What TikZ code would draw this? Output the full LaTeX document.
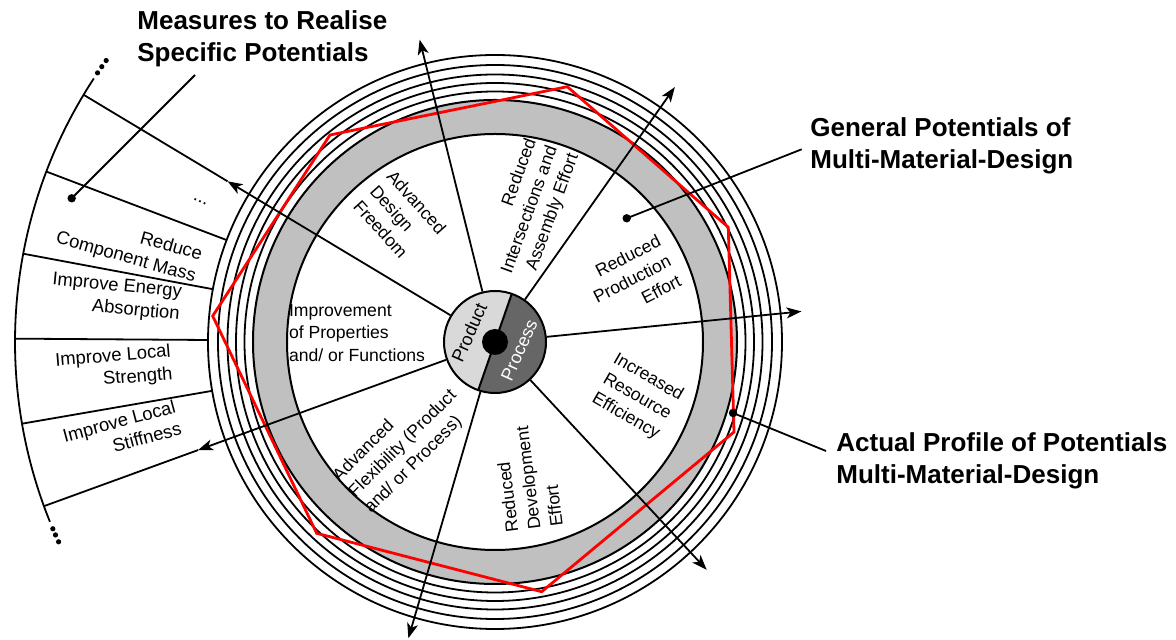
\documentclass[tikz,border=0pt]{standalone}
\usepackage{fontspec}
\setmainfont{Liberation Sans}
\usetikzlibrary{arrows.meta}
\definecolor{bandgray}{HTML}{C0C0C0}
\definecolor{prodgray}{HTML}{D9D9D9}
\definecolor{procgray}{HTML}{666666}
\definecolor{profred}{HTML}{FF0000}
\begin{document}
\begin{tikzpicture}[x=0.5pt,y=0.5pt,
  ring/.style={line width=0.9pt},
  plain/.style={line width=0.9pt},
  spoke/.style={line width=0.9pt,-{Stealth[length=7.5pt,width=5.5pt,inset=2pt]}},
  seclabel/.style={font=\fontsize{8.8}{11.2}\selectfont,inner sep=0pt},
  measlabel/.style={font=\fontsize{9.2}{11.3}\selectfont,inner sep=0pt,align=right},
  hublabel/.style={font=\fontsize{9}{10}\selectfont,inner sep=0pt,rotate=66},
  title/.style={font=\fontsize{13}{16}\selectfont\bfseries,align=left,anchor=north west,inner sep=0pt},
  dot/.style={circle,fill=black,inner sep=0pt,minimum size=4.2pt},
  smalldot/.style={circle,fill=black,inner sep=0pt,minimum size=2.6pt},
  profile/.style={draw=profred,line width=1.4pt,line join=miter}
]
\useasboundingbox (-495,-298) rectangle (681,342);
\fill[white] (-495,-298) rectangle (681,342);

% ---- measures panel ----
\draw[plain] (146.7:480) arc[start angle=146.7,end angle=202,radius=480];
\foreach \a in {159.2,169.4,179.6,189.8} \draw[plain] (\a:287) -- (\a:480);
\foreach \a [count=\i] in {145.9,145.0,144.1} \node[smalldot] (tdot\i) at (\a:480) {};
\foreach \a [count=\i] in {202.9,203.7,204.6} \node[smalldot] (bdot\i) at (\a:480) {};

% ---- band and rings ----
\fill[bandgray,even odd rule] (0,0) circle (242) (0,0) circle (208);
\draw[line width=1pt] (0,0) circle (208) (0,0) circle (242);
\foreach \r in {250.5,259,267.5,277,287} \draw[ring] (0,0) circle (\r);

% ---- actual profile ----
\draw[profile] (72.3,255.3) -- (233.3,114.7) -- (239,-90) -- (46.7,-249.7)
  -- (-178.3,-191.3) -- (-282.3,26) -- (-165,207) -- cycle;

% ---- hub ----
\fill[prodgray] (70.8:51) arc[start angle=70.8,end angle=250.8,radius=51] -- cycle;
\fill[procgray] (250.8:51) arc[start angle=250.8,end angle=430.8,radius=51] -- cycle;
\draw[line width=1pt] (70.8:51) -- (250.8:51);
\node[circle,draw,line width=1pt,minimum size=51pt,inner sep=0pt] (hub) at (0,0) {};
\node[circle,fill=black,minimum size=13pt,inner sep=0pt] (core) at (0,0) {};

% ---- spokes ----
\coordinate (t1) at (149:312);   \coordinate (e1) at (149:480);
\coordinate (t2) at (104:311.6);
\coordinate (t3) at (54.8:312);
\coordinate (t4) at (5.7:308);
\coordinate (t5) at (-47.1:311);
\coordinate (t6) at (-106.3:308.7);
\coordinate (t7) at (200:316);   \coordinate (e7) at (200:480);
\foreach \i in {1,...,7} \draw[spoke] (hub) -- (t\i);
\draw[plain] (t1) -- (e1);
\draw[plain] (t7) -- (e7);

% ---- hub labels ----
\node[hublabel] (prod) at (-25.8,9.5) {Product};
\node[hublabel,text=white] (proc) at (24.2,-8) {Process};

% ---- sector labels ----
\node[seclabel,align=left] (s1) at (-138,9) {Improvement\\of Properties\\and/ or Functions};
\node[seclabel,align=left,rotate=-48] (s2) at (-95,125) {Advanced\\Design\\Freedom};
\node[seclabel,align=right,rotate=70] (s3) at (35,132) {Reduced\\Intersections and\\Assembly Effort};
\node[seclabel,align=right,rotate=27] (s4) at (137,63) {Reduced\\Production\\Effort};
\node[seclabel,align=center,rotate=-30] (s5) at (142,-55) {Increased\\Resource\\Efficiency};
\node[seclabel,align=left,rotate=97] (s6) at (33,-136) {Reduced\\Development\\Effort};
\node[seclabel,align=left,rotate=45] (s7) at (-92,-102) {Advanced\\Flexibility (Product\\and/ or Process)};

% ---- measure labels ----
\node[measlabel,rotate=-26] (m1) at (-295,140) {...};
\node[measlabel,rotate=-15.7] (m2) at (-366,95) {Reduce\\Component Mass};
\node[measlabel,rotate=-5.5] (m3) at (-379,44) {Improve Energy\\Absorption};
\node[measlabel,rotate=4.7] (m4) at (-381,-26) {Improve Local\\Strength};
\node[measlabel,rotate=15] (m5) at (-373,-90) {Improve Local\\Stiffness};

% ---- titles and callouts ----
\node[title] (meas) at (-358,332) {Measures to Realise\\Specific Potentials};
\node[title] (gen) at (315,225) {General Potentials of\\Multi-Material-Design};
\node[title] (act) at (341,-90) {Actual Profile of Potentials\\Multi-Material-Design};

\node[dot] (d1) at (-423.3,143.7) {};
\coordinate (c1) at (-300,267);
\draw[plain] (d1.center) -- (c1);
\node[dot] (d2) at (131.7,123.7) {};
\coordinate (c2) at (306.7,192.7);
\draw[plain] (d2.center) -- (c2);
\node[dot] (d3) at (238,-71) {};
\coordinate (c3) at (331,-109);
\draw[plain] (d3.center) -- (c3);
\end{tikzpicture}
\end{document}
